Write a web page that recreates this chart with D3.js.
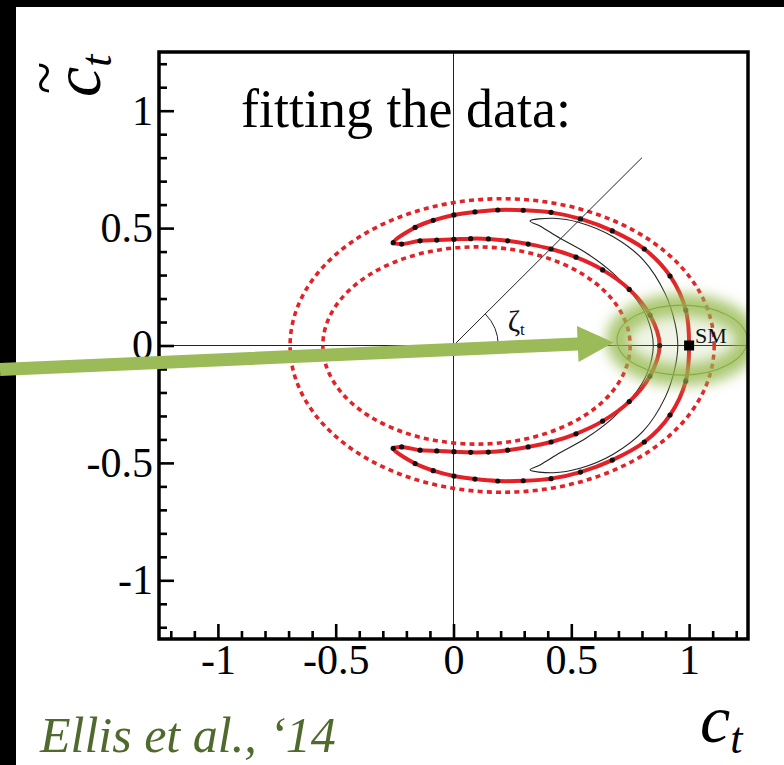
<!DOCTYPE html>
<html><head><meta charset="utf-8">
<script src="https://cdn.jsdelivr.net/npm/d3@7"></script>
<style>html,body{margin:0;padding:0;background:#000;}svg{display:block;}</style>
</head><body>
<svg id="chart" width="784" height="765"></svg>
<script>
// ---------- data ----------
const xDomain = [-1.25, 1.25];
const yDomain = [-1.25, 1.25];
const majorTicks = [-1, -0.5, 0, 0.5, 1];
const minorTicks = [-1.2,-1.1,-0.9,-0.8,-0.7,-0.6,-0.4,-0.3,-0.2,-0.1,0.1,0.2,0.3,0.4,0.6,0.7,0.8,0.9,1.1,1.2];
const tickLabels = ["-1", "-0.5", "0", "0.5", "1"];

// solid red 68% contour (closed, with black sample points)
const solidContour = [
  [-0.256,0.438],[-0.163,0.503],[-0.086,0.533],[0.002,0.556],[0.091,0.569],[0.188,0.577],[0.296,0.576],[0.414,0.567],[0.539,0.539],[0.674,0.488],[0.810,0.411],[0.919,0.296],[0.986,0.151],[1.0,0.0],
  [0.986,-0.151],[0.919,-0.296],[0.810,-0.411],[0.674,-0.488],[0.539,-0.539],[0.414,-0.567],[0.296,-0.576],[0.188,-0.577],[0.091,-0.569],[0.002,-0.556],[-0.086,-0.533],[-0.163,-0.503],[-0.256,-0.438],
  [-0.220,-0.432],[-0.142,-0.446],[-0.071,-0.449],[0.002,-0.452],[0.073,-0.455],[0.148,-0.454],[0.230,-0.446],[0.317,-0.432],[0.414,-0.411],[0.520,-0.376],[0.633,-0.322],[0.746,-0.239],[0.834,-0.130],[0.875,0.0],
  [0.834,0.130],[0.746,0.239],[0.633,0.322],[0.520,0.376],[0.414,0.411],[0.317,0.432],[0.230,0.446],[0.148,0.454],[0.073,0.455],[0.002,0.452],[-0.071,0.449],[-0.142,0.446],[-0.220,0.432]
];
// thin black crescent
const blackContour = [
  [0.325,0.530],[0.424,0.542],[0.537,0.523],[0.678,0.463],[0.806,0.364],[0.898,0.222],[0.940,0.095],[0.952,0],
  [0.940,-0.095],[0.898,-0.222],[0.806,-0.364],[0.678,-0.463],[0.537,-0.523],[0.424,-0.542],[0.325,-0.530],
  [0.367,-0.509],[0.452,-0.457],[0.565,-0.393],[0.678,-0.307],[0.763,-0.215],[0.820,-0.123],[0.848,0],
  [0.820,0.123],[0.763,0.215],[0.678,0.307],[0.565,0.393],[0.452,0.457],[0.367,0.509]
];
// dotted red ellipses: [cx, cy, rx, ry]
const dottedEllipses = [[0.2065, 0, 0.900, 0.625], [0.0975, 0, 0.652, 0.420]];
const diagonalEnd = [0.80, 0.80];
const angleRadius = 0.19;
const smPoint = [1.0, 0.0];
const glowEllipse = [0.97, 0.023, 0.276, 0.149];
const arrowFrom = [-1.925, -0.102];
const arrowTo = [0.68, 0.013];

// ---------- drawing ----------
const svg = d3.select("#chart");
svg.append("rect").attr("width",784).attr("height",765).attr("fill","#000");
svg.append("rect").attr("x",16).attr("y",7).attr("width",768).attr("height",758).attr("fill","#fff");

const x = d3.scaleLinear().domain(xDomain).range([159, 748]);
const y = d3.scaleLinear().domain(yDomain).range([639, 52]);

const defs = svg.append("defs");
defs.append("clipPath").attr("id","clip").append("rect")
  .attr("x", x(xDomain[0])).attr("y", y(yDomain[1]))
  .attr("width", x(xDomain[1]) - x(xDomain[0])).attr("height", y(yDomain[0]) - y(yDomain[1]));
const blur = defs.append("filter").attr("id","glow").attr("x","-50%").attr("y","-50%").attr("width","200%").attr("height","200%");
blur.append("feGaussianBlur").attr("stdDeviation", 6.5);

const plot = svg.append("g").attr("clip-path","url(#clip)");

// axis cross lines
plot.append("line").attr("x1", x(0)).attr("x2", x(0)).attr("y1", y(yDomain[0])).attr("y2", y(yDomain[1]))
  .attr("stroke","#222").attr("stroke-width",1);
plot.append("line").attr("x1", x(xDomain[0])).attr("x2", x(xDomain[1])).attr("y1", y(0)).attr("y2", y(0))
  .attr("stroke","#222").attr("stroke-width",1);

// dotted ellipses
plot.selectAll("ellipse.dotted").data(dottedEllipses).join("ellipse").attr("class","dotted")
  .attr("cx", d => x(d[0])).attr("cy", d => y(d[1]))
  .attr("rx", d => x(d[0] + d[2]) - x(d[0])).attr("ry", d => y(d[1]) - y(d[1] + d[3]))
  .attr("fill","none").attr("stroke","#e32228").attr("stroke-width",3.6).attr("stroke-dasharray","5,4.2");

const line = d3.line().x(d => x(d[0])).y(d => y(d[1])).curve(d3.curveCatmullRomClosed.alpha(0.5));

// black crescent
plot.append("path").attr("d", line(blackContour)).attr("fill","none").attr("stroke","#222").attr("stroke-width",1.1);

// solid red contour
plot.append("path").attr("d", line(solidContour)).attr("fill","none").attr("stroke","#e32228").attr("stroke-width",4);
plot.selectAll("circle.pt").data(solidContour).join("circle").attr("class","pt")
  .attr("cx", d => x(d[0])).attr("cy", d => y(d[1])).attr("r", 2.6).attr("fill","#111");

// diagonal + angle
plot.append("line").attr("x1", x(0)).attr("y1", y(0)).attr("x2", x(diagonalEnd[0])).attr("y2", y(diagonalEnd[1]))
  .attr("stroke","#222").attr("stroke-width",1);
const rPx = x(angleRadius) - x(0);
const ang = Math.atan2(y(0) - y(diagonalEnd[1]), x(diagonalEnd[0]) - x(0));
plot.append("path")
  .attr("d", `M${x(0)+rPx},${y(0)} A${rPx},${rPx} 0 0 0 ${x(0)+rPx*Math.cos(ang)},${y(0)-rPx*Math.sin(ang)}`)
  .attr("fill","none").attr("stroke","#222").attr("stroke-width",1);
const zt = plot.append("text").attr("x", x(0.23)).attr("y", y(0.06))
  .attr("font-family","Liberation Serif").attr("font-size",30).attr("fill","#111");
zt.append("tspan").text("ζ");
zt.append("tspan").attr("font-size",17).attr("dy",4).text("t");

// glow
const g = glowEllipse;
plot.append("ellipse").attr("cx", x(g[0])).attr("cy", y(g[1]))
  .attr("rx", x(g[0]+g[2]) - x(g[0])).attr("ry", y(g[1]) - y(g[1]+g[3]))
  .attr("fill","#9bbb59").attr("fill-opacity",0.15)
  .attr("stroke","#97ba50").attr("stroke-width",22).attr("stroke-opacity",0.8)
  .attr("filter","url(#glow)");
svg.append("ellipse").attr("cx", x(g[0])).attr("cy", y(g[1]))
  .attr("rx", x(g[0]+g[2]) - x(g[0])).attr("ry", y(g[1]) - y(g[1]+g[3]))
  .attr("fill","none").attr("stroke","#86ad45").attr("stroke-width",1.1);

// SM point
plot.append("rect").attr("x", x(smPoint[0]) - 5).attr("y", y(smPoint[1]) - 5).attr("width",10).attr("height",10).attr("fill","#000");
svg.append("text").attr("x", x(smPoint[0]) + 6).attr("y", y(smPoint[1]) - 3)
  .attr("font-family","Liberation Serif").attr("font-size",22).attr("fill","#111").text("SM");

// frame
svg.append("rect").attr("x", x(xDomain[0])).attr("y", y(yDomain[1]))
  .attr("width", x(xDomain[1]) - x(xDomain[0])).attr("height", y(yDomain[0]) - y(yDomain[1]))
  .attr("fill","none").attr("stroke","#000").attr("stroke-width",3.5);

// axes
const fmt = d => tickLabels[majorTicks.indexOf(d)];
function styleAxis(sel){
  sel.select(".domain").remove();
  sel.selectAll(".tick line").attr("stroke","#000").attr("stroke-width",2.6);
  sel.selectAll(".tick text").attr("font-family","Liberation Serif").attr("font-size",42).attr("fill","#000");
}
const xMajor = svg.append("g").attr("transform",`translate(0,${y(yDomain[0])})`)
  .call(d3.axisBottom(x).tickValues(majorTicks).tickFormat(fmt).tickSizeInner(-15).tickSizeOuter(0).tickPadding(10));
styleAxis(xMajor);
xMajor.selectAll(".tick text").attr("dy","0.6em");
const xMinor = svg.append("g").attr("transform",`translate(0,${y(yDomain[0])})`)
  .call(d3.axisBottom(x).tickValues(minorTicks).tickFormat("").tickSizeInner(-8).tickSizeOuter(0));
styleAxis(xMinor);
const yMajor = svg.append("g").attr("transform",`translate(${x(xDomain[0])},0)`)
  .call(d3.axisLeft(y).tickValues(majorTicks).tickFormat(fmt).tickSizeInner(-15).tickSizeOuter(0).tickPadding(6));
styleAxis(yMajor);
const yMinor = svg.append("g").attr("transform",`translate(${x(xDomain[0])},0)`)
  .call(d3.axisLeft(y).tickValues(minorTicks).tickFormat("").tickSizeInner(-8).tickSizeOuter(0));
styleAxis(yMinor);

// title text
svg.append("text").attr("x",241).attr("y",127).attr("font-family","Liberation Serif").attr("font-size",54)
  .attr("fill","#000").text("fitting the data:");

// axis titles
const xt = svg.append("text").attr("x",700).attr("y",742).attr("font-family","Liberation Serif")
  .attr("font-style","italic").attr("font-size",68).attr("fill","#000");
xt.append("tspan").text("c");
xt.append("tspan").attr("font-size",44).attr("dy",11).text("t");

const yt = svg.append("g").attr("transform","translate(100,97) rotate(-90)");
const ytt = yt.append("text").attr("x",0).attr("y",0).attr("font-family","Liberation Serif")
  .attr("font-style","italic").attr("font-size",68).attr("fill","#000");
ytt.append("tspan").text("c");
ytt.append("tspan").attr("font-size",44).attr("dy",11).text("t");
yt.append("text").attr("x",19).attr("y",-36).attr("text-anchor","middle").attr("font-family","Liberation Serif")
  .attr("font-size",60).attr("fill","#000").text("~");

// citation
svg.append("text").attr("x",40).attr("y",752).attr("font-family","Liberation Serif").attr("font-style","italic")
  .attr("font-size",50).attr("fill","#4f6a2c").text("Ellis et al., ‘14");

// green arrow
const ax0 = x(arrowFrom[0]), ay0 = y(arrowFrom[1]), ax1 = x(arrowTo[0]), ay1 = y(arrowTo[1]);
const dx = ax1 - ax0, dy = ay1 - ay0, L = Math.hypot(dx, dy), ux = dx / L, uy = dy / L, nx = -uy, ny = ux;
const headLen = 36, headHalf = 18, shaftHalf = 6.5;
const bx = ax1 - ux * headLen, by = ay1 - uy * headLen;
const arrowPts = [
  [ax0 + nx*shaftHalf, ay0 + ny*shaftHalf], [bx + nx*shaftHalf, by + ny*shaftHalf], [bx + nx*headHalf, by + ny*headHalf],
  [ax1, ay1], [bx - nx*headHalf, by - ny*headHalf], [bx - nx*shaftHalf, by - ny*shaftHalf], [ax0 - nx*shaftHalf, ay0 - ny*shaftHalf]
];
svg.append("path").attr("d", "M" + arrowPts.map(p => p.join(",")).join("L") + "Z").attr("fill","#9bbb59");
</script>
</body></html>
